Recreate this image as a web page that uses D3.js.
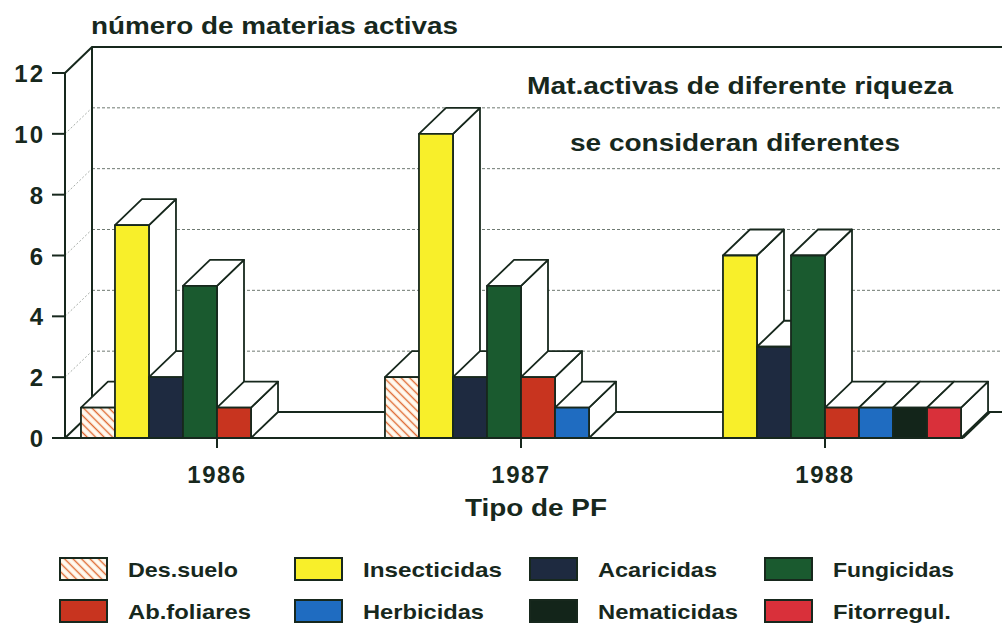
<!doctype html>
<html lang="es">
  <head>
    <meta charset="UTF-8" />
    <title>Número de materias activas</title>
    <script src="https://d3js.org/d3.v7.min.js"></script>
    <style>
      body {
        margin: 0;
        padding: 0;
        background: #fff;
      }
      text {
        font-family: 'Liberation Sans', Arial, sans-serif;
        font-weight: bold;
        fill: #17281d;
      }
    </style>
  </head>
  <body>
    <svg id="chart" width="1002" height="624"></svg>

    <script>
      // data
      const years = ['1986', '1987', '1988'];
      const series = [
        'Des.suelo',
        'Insecticidas',
        'Acaricidas',
        'Fungicidas',
        'Ab.foliares',
        'Herbicidas',
        'Nematicidas',
        'Fitorregul.',
      ];
      const desSuelo = [1, 2, 0];
      const insecticidas = [7, 10, 6];
      const acaricidas = [2, 2, 3];
      const fungicidas = [5, 5, 6];
      const abFoliares = [1, 2, 1];
      const herbicidas = [0, 1, 1];
      const nematicidas = [0, 0, 1];
      const fitorregul = [0, 0, 1];
      const yTicks = [0, 2, 4, 6, 8, 10, 12];

      const values = [
        desSuelo,
        insecticidas,
        acaricidas,
        fungicidas,
        abFoliares,
        herbicidas,
        nematicidas,
        fitorregul,
      ];
      const colors = [
        'url(#hatch)',
        '#f8ef2a',
        '#1e2a40',
        '#1a5a2f',
        '#c8341f',
        '#1f6cc1',
        '#13251a',
        '#d9303a',
      ];

      const ink = '#17281d';
      const DX = 27;
      const DY = -26;

      const svg = d3.select('#chart');

      const defs = svg.append('defs');
      const pat = defs
        .append('pattern')
        .attr('id', 'hatch')
        .attr('patternUnits', 'userSpaceOnUse')
        .attr('width', 6)
        .attr('height', 6)
        .attr('patternTransform', 'rotate(45)');
      pat
        .append('rect')
        .attr('width', 6)
        .attr('height', 6)
        .attr('fill', '#fffaf0');
      pat
        .append('line')
        .attr('x1', 0)
        .attr('x2', 6)
        .attr('y1', 1.5)
        .attr('y2', 1.5)
        .attr('stroke', '#df6a32')
        .attr('stroke-width', 1.4);

      const y = d3.scaleLinear().domain([0, 12]).range([438, 73]);

      const x0 = d3
        .scaleBand()
        .domain(years)
        .range([65, 977])
        .paddingInner(0.105)
        .paddingOuter(0.0525);

      const x1 = d3
        .scaleBand()
        .domain(series)
        .range([0, x0.bandwidth()]);

      const xLeft = 65;
      const xRight = 1010;
      const y0 = y(0);
      const yTop = y(12);

      // back wall grid
      const grid = svg.append('g');
      yTicks
        .filter((t) => t > 0 && t < 12)
        .forEach((t) => {
          grid
            .append('line')
            .attr('x1', xLeft + DX)
            .attr('x2', xRight)
            .attr('y1', y(t) + DY)
            .attr('y2', y(t) + DY)
            .attr('stroke', '#6f7a72')
            .attr('stroke-width', 1)
            .attr('stroke-dasharray', '3,2');
          grid
            .append('line')
            .attr('x1', xLeft)
            .attr('x2', xLeft + DX)
            .attr('y1', y(t))
            .attr('y2', y(t) + DY)
            .attr('stroke', '#a8aea9')
            .attr('stroke-width', 1)
            .attr('stroke-dasharray', '2,2');
        });

      // walls
      const frame = svg
        .append('g')
        .attr('fill', 'none')
        .attr('stroke', ink)
        .attr('stroke-width', 2);
      frame
        .append('path')
        .attr(
          'd',
          `M${xLeft},${yTop}L${xLeft + DX},${yTop + DY}L${xRight},${yTop + DY}` +
            `M${xLeft + DX},${yTop + DY}L${xLeft + DX},${y0 + DY}L${xRight},${y0 + DY}` +
            `M${xLeft},${y0}L${xLeft + DX},${y0 + DY}`,
        );

      const floorEnd = 963;
      frame
        .append('path')
        .attr(
          'd',
          `M${floorEnd},${y0}L${floorEnd + DX},${y0 + DY}`,
        );

      // annotation on back wall
      svg
        .append('text')
        .attr('x', 527)
        .attr('y', 94)
        .attr('textLength', 426)
        .attr('lengthAdjust', 'spacingAndGlyphs')
        .style('font-size', '23px')
        .text('Mat.activas de diferente riqueza');
      svg
        .append('text')
        .attr('x', 570)
        .attr('y', 151)
        .attr('textLength', 330)
        .attr('lengthAdjust', 'spacingAndGlyphs')
        .style('font-size', '23px')
        .text('se consideran diferentes');

      // bars
      const bars = svg.append('g');
      years.forEach((yr, gi) => {
        series.forEach((s, si) => {
          const v = values[si][gi];
          if (!v) return;
          const a = x0(yr) + x1(s);
          const b = a + x1.bandwidth();
          const t = y(v);
          const g = bars.append('g').attr('stroke', ink).attr('stroke-width', 1.8).attr('stroke-linejoin', 'round');
          g.append('path')
            .attr('fill', '#fff')
            .attr('d', `M${b},${y0}L${b},${t}L${b + DX},${t + DY}L${b + DX},${y0 + DY}Z`);
          g.append('path')
            .attr('fill', '#fff')
            .attr('d', `M${a},${t}L${b},${t}L${b + DX},${t + DY}L${a + DX},${t + DY}Z`);
          g.append('rect')
            .attr('x', a)
            .attr('y', t)
            .attr('width', b - a)
            .attr('height', y0 - t)
            .attr('fill', colors[si]);
        });
      });

      // front axis and floor line
      const axis = svg
        .append('g')
        .attr('stroke', ink)
        .attr('stroke-width', 2)
        .attr('fill', 'none');
      axis
        .append('line')
        .attr('x1', xLeft)
        .attr('x2', xLeft)
        .attr('y1', yTop)
        .attr('y2', y0);
      axis
        .append('line')
        .attr('x1', 52)
        .attr('x2', floorEnd)
        .attr('y1', y0)
        .attr('y2', y0);
      yTicks.forEach((t) => {
        axis
          .append('line')
          .attr('x1', 52)
          .attr('x2', xLeft)
          .attr('y1', y(t))
          .attr('y2', y(t));
      });
      years.forEach((yr) => {
        const cx = x0(yr) + x0.bandwidth() / 2;
        axis
          .append('line')
          .attr('x1', cx)
          .attr('x2', cx)
          .attr('y1', y0)
          .attr('y2', y0 + 10);
      });

      // tick labels
      svg
        .append('g')
        .selectAll('text')
        .data(yTicks)
        .join('text')
        .attr('x', 45)
        .attr('y', (d) => y(d) + 9)
        .attr('text-anchor', 'end')
        .style('font-size', '24px')
        .style('letter-spacing', '2px')
        .text((d) => d);

      svg
        .append('g')
        .selectAll('text')
        .data(years)
        .join('text')
        .attr('x', (d) => x0(d) + x0.bandwidth() / 2)
        .attr('y', 483)
        .attr('text-anchor', 'middle')
        .style('font-size', '24px')
        .style('letter-spacing', '1.5px')
        .text((d) => d);

      svg
        .append('text')
        .attr('x', 465)
        .attr('y', 516)
        .attr('textLength', 142)
        .attr('lengthAdjust', 'spacingAndGlyphs')
        .style('font-size', '23px')
        .text('Tipo de PF');

      svg
        .append('text')
        .attr('x', 91)
        .attr('y', 34)
        .attr('textLength', 367)
        .attr('lengthAdjust', 'spacingAndGlyphs')
        .style('font-size', '23px')
        .text('número de materias activas');

      // legend: row 1 Des, Ins, Aca, Fun; row 2 Abf, Her, Nem, Fit
      const legendCols = [60, 295, 530, 765];
      const legendRows = [558, 600];
      const legendWidths = [110, 139, 119, 121, 123, 121, 140, 118];
      const legend = svg.append('g');
      series.forEach((s, i) => {
        const col = i % 4;
        const row = i < 4 ? 0 : 1;
        const lx = legendCols[col];
        const ly = legendRows[row];
        legend
          .append('rect')
          .attr('x', lx)
          .attr('y', ly)
          .attr('width', 47)
          .attr('height', 22)
          .attr('fill', colors[i])
          .attr('stroke', ink)
          .attr('stroke-width', 2);
        legend
          .append('text')
          .attr('x', lx + 68)
          .attr('y', ly + 19)
          .attr('textLength', legendWidths[i])
          .attr('lengthAdjust', 'spacingAndGlyphs')
          .style('font-size', '21px')
          .text(s);
      });
    </script>
  </body>
</html>
